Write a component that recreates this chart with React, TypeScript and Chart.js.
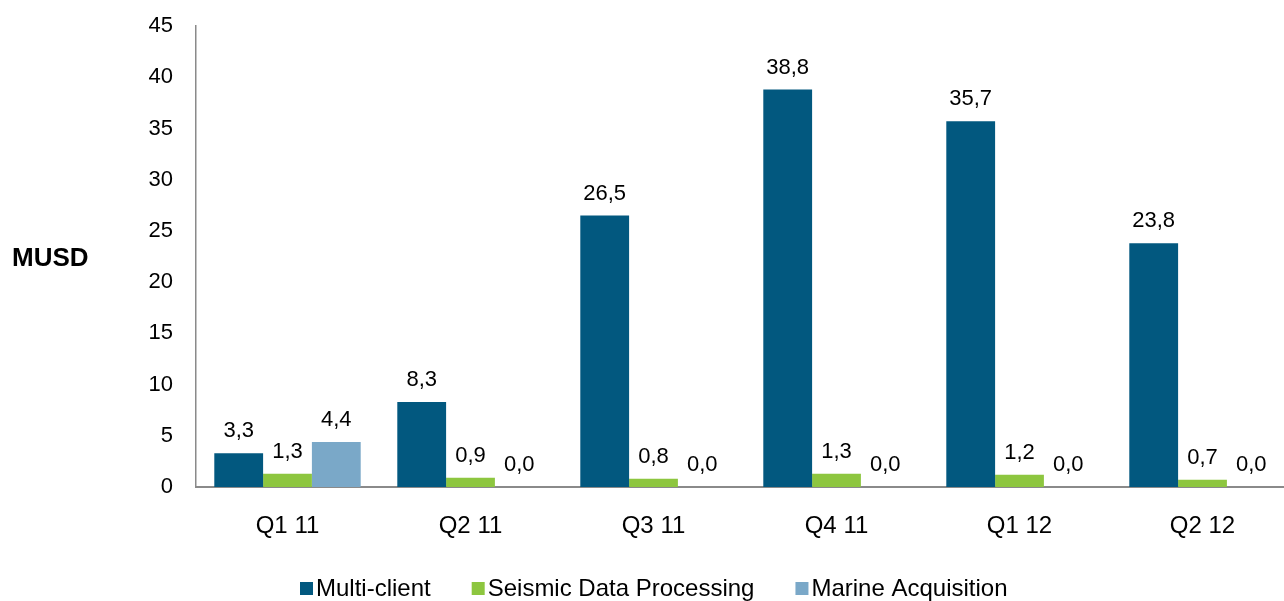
import React, { useEffect, useRef } from "react";
import { Chart, registerables } from "chart.js";

Chart.register(...registerables);

const categories = ["Q1 11", "Q2 11", "Q3 11", "Q4 11", "Q1 12", "Q2 12"];
const multiClient = [3.3, 8.3, 26.5, 38.8, 35.7, 23.8];
const seismicProcessing = [1.3, 0.9, 0.8, 1.3, 1.2, 0.7];
const marineAcquisition = [4.4, 0.0, 0.0, 0.0, 0.0, 0.0];
const seriesNames = ["Multi-client", "Seismic Data Processing", "Marine Acquisition"];
const seriesColors = ["#02587F", "#8DC63F", "#7AA8C8"];
const yTicks = [0, 5, 10, 15, 20, 25, 30, 35, 40, 45];
const yTitle = "MUSD";

const FONT = "'Liberation Sans', Arial, sans-serif";

const labelsPlugin = {
  id: "customLabels",
  afterDatasetsDraw(chart: any) {
    const ctx = chart.ctx;
    ctx.save();
    ctx.font = `22px ${FONT}`;
    ctx.fillStyle = "#000";
    ctx.textAlign = "center";
    ctx.textBaseline = "middle";
    chart.data.datasets.forEach((ds: any, i: number) => {
      const meta = chart.getDatasetMeta(i);
      meta.data.forEach((el: any, j: number) => {
        const v = ds.data[j];
        ctx.fillText(v.toFixed(1).replace(".", ","), el.x, el.y - 22);
      });
    });
    ctx.font = `bold 26px ${FONT}`;
    ctx.textAlign = "left";
    ctx.fillText(yTitle, 12, 259);
    ctx.font = `24px ${FONT}`;
    let x = 300;
    const y = 588;
    seriesNames.forEach((name, i) => {
      ctx.fillStyle = seriesColors[i];
      ctx.fillRect(x, y - 6, 13, 13);
      ctx.fillStyle = "#000";
      ctx.fillText(name, x + 16, y + 1);
      x += 16 + ctx.measureText(name).width + 41;
    });
    ctx.restore();
  },
};

export default function App() {
  const ref = useRef<HTMLCanvasElement>(null);
  useEffect(() => {
    if (!ref.current) return;
    const chart = new Chart(ref.current, {
      type: "bar",
      data: {
        labels: categories,
        datasets: [multiClient, seismicProcessing, marineAcquisition].map((d, i) => ({
          label: seriesNames[i],
          data: d,
          backgroundColor: seriesColors[i],
          borderWidth: 0,
          categoryPercentage: 0.8,
          barPercentage: 1.0,
        })),
      },
      options: {
        responsive: false,
        animation: false,
        devicePixelRatio: 1,
        layout: { padding: { top: 26, left: 0, right: 6, bottom: 0 } },
        plugins: { legend: { display: false }, tooltip: { enabled: false } },
        scales: {
          x: {
            grid: { display: false, drawTicks: false },
            border: { display: true, color: "#8A8A8A", width: 2 },
            ticks: { font: { family: FONT, size: 24 }, color: "#000", padding: 25, maxRotation: 0 },
            afterFit: (s: any) => {
              s.height = 114;
            },
          },
          y: {
            min: 0,
            max: 45,
            afterBuildTicks: (s: any) => {
              s.ticks = yTicks.map((v) => ({ value: v }));
            },
            grid: { display: false, drawTicks: false },
            border: { display: true, color: "#8A8A8A", width: 1.5 },
            ticks: { font: { family: FONT, size: 22 }, color: "#000", padding: 23 },
            afterFit: (s: any) => {
              s.width = 196;
              s.paddingTop = 0;
              s.paddingBottom = 0;
            },
          },
        },
      },
      plugins: [labelsPlugin],
    });
    return () => chart.destroy();
  }, []);
  return (
    <div style={{ position: "absolute", left: 0, top: 0, width: 1284, height: 601, overflow: "hidden", background: "#fff" }}>
      <canvas ref={ref} width={1300} height={601} style={{ display: "block" }} />
    </div>
  );
}
